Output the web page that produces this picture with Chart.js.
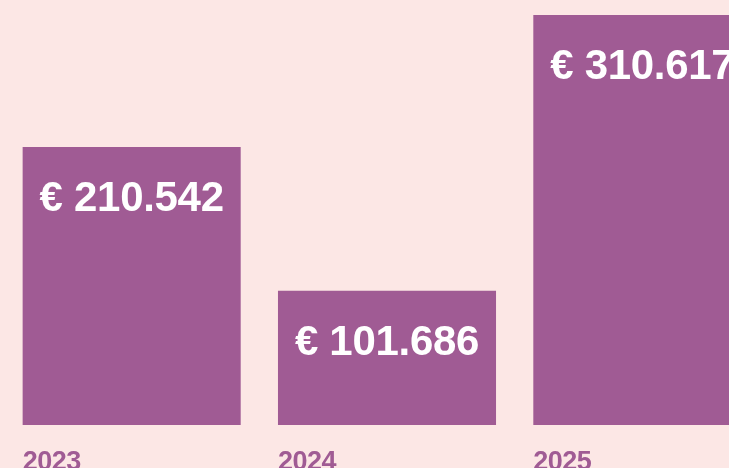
<!DOCTYPE html>
<html>
<head>
<meta charset="utf-8">
<script src="https://cdn.jsdelivr.net/npm/chart.js"></script>
<style>
  html, body { margin: 0; padding: 0; background: #fce7e5; overflow: hidden; }
  #wrap { width: 770px; height: 468px; }
</style>
</head>
<body>
<div id="wrap"><canvas id="myChart" width="770" height="468"></canvas></div>
<script>
let years = ["2023", "2024", "2025"];
let revenue = [210542, 101686, 310617];

let purple = "#a05b94";

function euro(v) {
	return "€ " + String(v).replace(/\B(?=(\d{3})+(?!\d))/g, ".");
}

// value inside each bar, year under each bar (left aligned to the bar)
var barLabels = {
	id: "barLabels",
	afterDatasetsDraw(chart) {
		var ctx = chart.ctx;
		var meta = chart.getDatasetMeta(0);
		ctx.save();
		meta.data.forEach(function (bar, i) {
			ctx.fillStyle = "#ffffff";
			ctx.font = "bold 42px 'Liberation Sans', Arial, sans-serif";
			ctx.letterSpacing = "-0.3px";
			ctx.textAlign = "center";
			ctx.textBaseline = "alphabetic";
			ctx.fillText(euro(revenue[i]), bar.x, bar.y + 64);

			ctx.fillStyle = purple;
			ctx.font = "bold 27px 'Liberation Sans', Arial, sans-serif";
			ctx.letterSpacing = "-0.5px";
			ctx.textAlign = "left";
			ctx.fillText(years[i], bar.x - bar.width / 2, 470);
		});
		ctx.restore();
	}
};

var ctx = document.getElementById("myChart");
var chart = new Chart(ctx, {
	type: "bar",
	data: {
		labels: years,
		datasets: [
			{
				data: revenue,
				backgroundColor: purple,
				borderWidth: 0,
				barPercentage: 0.854,
				categoryPercentage: 1
			}
		]
	},
	options: {
		responsive: false,
		animation: false,
		layout: { padding: { left: 4, right: 0, top: 15, bottom: 43 } },
		plugins: { legend: { display: false }, tooltip: { enabled: false } },
		scales: {
			x: { display: false },
			y: { display: false, min: 0, max: Math.max(...revenue) }
		}
	},
	plugins: [barLabels]
});
</script>
</body>
</html>
